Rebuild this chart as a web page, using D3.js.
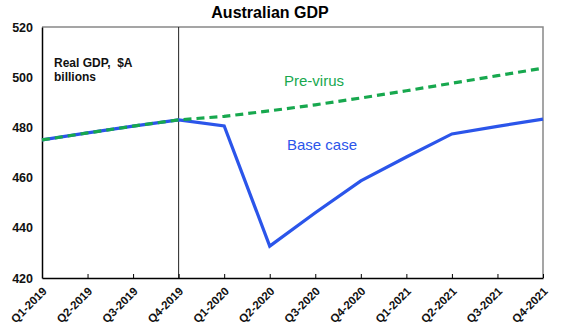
<!DOCTYPE html>
<html>
<head>
<meta charset="utf-8">
<script src="https://cdn.jsdelivr.net/npm/d3@7"></script>
<style>
  html, body { margin: 0; padding: 0; background: #fff; }
  svg { display: block; font-family: "Liberation Sans", Arial, sans-serif; }
</style>
</head>
<body>
<svg id="chart" width="570" height="329"></svg>
<script>
// Quarters shown on the x axis
const quarters = ["Q1-2019","Q2-2019","Q3-2019","Q4-2019","Q1-2020","Q2-2020",
                  "Q3-2020","Q4-2020","Q1-2021","Q2-2021","Q3-2021","Q4-2021"];
// Real GDP, $A billions
const baseCase = [475, 477.8, 480.5, 483, 480.6, 432.7, 446, 458.7, 468.2, 477.4, 480.4, 483.3];
const preVirus = [475, 477.8, 480.5, 483, 484.4, 486.6, 489, 491.7, 494.6, 497.6, 500.6, 503.6];
const yTicks = [420, 440, 460, 480, 500, 520];

const svg = d3.select("#chart");
const m = { left: 42, right: 27, top: 27, bottom: 51 };
const W = 570, H = 329;

const x = d3.scalePoint().domain(quarters).range([m.left, W - m.right]);
const y = d3.scaleLinear().domain([420, 520]).range([H - m.bottom, m.top]);

// Title
svg.append("text").attr("x", 270).attr("y", 18).attr("text-anchor", "middle")
  .attr("font-size", 16).attr("font-weight", "bold").text("Australian GDP");

// Plot frame (top/right in grey)
svg.append("path")
  .attr("d", `M${m.left},${m.top}H${W - m.right}V${H - m.bottom}`)
  .attr("fill", "none").attr("stroke", "#888").attr("stroke-width", 1.5);

// Divider at last actual quarter
svg.append("line")
  .attr("x1", x("Q4-2019")).attr("x2", x("Q4-2019"))
  .attr("y1", m.top).attr("y2", H - m.bottom)
  .attr("stroke", "#222").attr("stroke-width", 1);

// Y axis
const yAxis = svg.append("g").attr("transform", `translate(${m.left},0)`)
  .call(d3.axisLeft(y).tickValues(yTicks).tickSize(0).tickPadding(9));
yAxis.select(".domain").attr("stroke", "#000").attr("stroke-width", 1.5);
yAxis.selectAll("text").attr("font-size", 12.5).attr("font-weight", "bold")
  .attr("fill", "#111").attr("font-family", "Liberation Sans, Arial, sans-serif");

// X axis with inward ticks and rotated labels
const xAxis = svg.append("g").attr("transform", `translate(0,${H - m.bottom})`)
  .call(d3.axisBottom(x).tickSize(-4).tickSizeOuter(0));
xAxis.select(".domain").attr("stroke", "#000").attr("stroke-width", 1.5);
xAxis.selectAll(".tick line").attr("stroke", "#000");
xAxis.selectAll("text")
  .attr("font-size", 11.5).attr("font-weight", "bold").attr("fill", "#111")
  .attr("font-family", "Liberation Sans, Arial, sans-serif")
  .attr("text-anchor", "end")
  .attr("dy", null).attr("y", 0)
  .attr("transform", "translate(5,14) rotate(-45)");

const line = d3.line().x((d, i) => x(quarters[i])).y(d => y(d));

svg.append("path").datum(baseCase).attr("d", line)
  .attr("fill", "none").attr("stroke", "#2b55ea").attr("stroke-width", 3.2)
  .attr("stroke-linejoin", "miter");

svg.append("path").datum(preVirus).attr("d", line)
  .attr("fill", "none").attr("stroke", "#17a84e").attr("stroke-width", 3.2)
  .attr("stroke-dasharray", "8,5");

// Series labels
svg.append("text").attr("x", 284).attr("y", 86).attr("font-size", 15)
  .attr("fill", "#17a84e").text("Pre-virus");
svg.append("text").attr("x", 287).attr("y", 150).attr("font-size", 15)
  .attr("fill", "#2b55ea").text("Base case");

// Units note
const note = svg.append("text").attr("x", 54).attr("font-size", 12)
  .attr("font-weight", "bold").attr("fill", "#111");
note.append("tspan").attr("x", 54).attr("y", 67).attr("xml:space", "preserve").text("Real GDP,  $A");
note.append("tspan").attr("x", 54).attr("y", 81).text("billions");
</script>
</body>
</html>
